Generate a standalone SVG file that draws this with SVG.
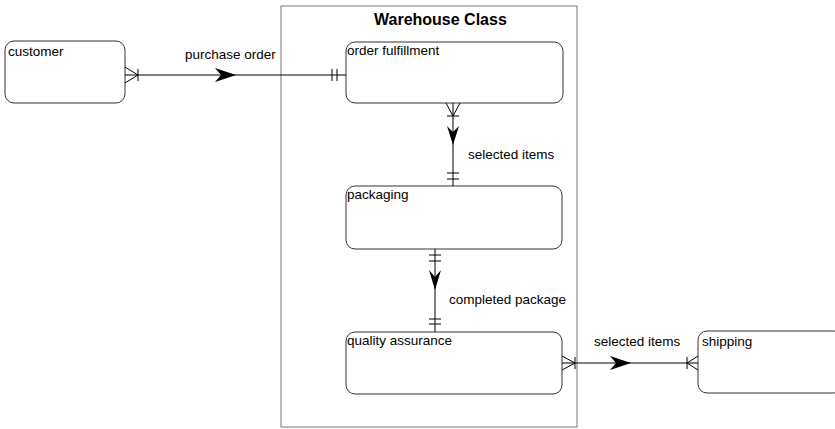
<svg xmlns="http://www.w3.org/2000/svg" width="835" height="429" viewBox="0 0 835 429">
<style>
.box{fill:#fff;stroke:#333;stroke-width:1}
.t{font-family:"Liberation Sans",Arial,sans-serif;font-size:13.5px;fill:#000}
.title{font-family:"Liberation Sans",Arial,sans-serif;font-size:16px;font-weight:bold;fill:#000}
.ln{stroke:#000;stroke-width:1;fill:none}
.ah{fill:#000;stroke:none}
</style>
<rect width="835" height="429" fill="#fff"/>
<g id="warehouse">
<rect x="281" y="6" width="296" height="421" fill="none" stroke="#777" stroke-width="1"/>
<text class="title" x="374" y="25">Warehouse Class</text>
</g>
<g id="customer">
<rect class="box" x="5" y="41" width="120" height="62" rx="9"/>
<text class="t" x="8" y="56">customer</text>
</g>
<g id="order-fulfillment">
<rect class="box" x="346" y="42" width="217" height="61" rx="9"/>
<text class="t" x="347" y="55">order fulfillment</text>
</g>
<g id="packaging">
<rect class="box" x="346" y="186" width="216" height="63" rx="9"/>
<text class="t" x="347" y="199">packaging</text>
</g>
<g id="quality-assurance">
<rect class="box" x="346" y="332" width="216" height="62" rx="9"/>
<text class="t" x="347" y="345">quality assurance</text>
</g>
<g id="shipping">
<rect class="box" x="698" y="331" width="145" height="62" rx="9"/>
<text class="t" x="702" y="346">shipping</text>
</g>
<g id="connectors">
<!-- customer to order fulfillment -->
<line class="ln" x1="125" y1="75" x2="346" y2="75"/>
<polyline class="ln" points="125,67 138,75 125,83"/>
<line class="ln" x1="138" y1="69" x2="138" y2="81"/>
<line class="ln" x1="332" y1="69" x2="332" y2="81"/>
<line class="ln" x1="337" y1="69" x2="337" y2="81"/>
<polygon class="ah" points="236,75 215,68 221,75 215,82"/>
<text class="t" x="185" y="59">purchase order</text>
<!-- order fulfillment to packaging -->
<line class="ln" x1="453" y1="103" x2="453" y2="186"/>
<polyline class="ln" points="446,103 453,116 460,103"/>
<line class="ln" x1="447" y1="116" x2="459" y2="116"/>
<line class="ln" x1="447" y1="173" x2="459" y2="173"/>
<line class="ln" x1="447" y1="179" x2="459" y2="179"/>
<polygon class="ah" points="453,145 447,126 453,132 459,126"/>
<text class="t" x="468" y="159">selected items</text>
<!-- packaging to QA -->
<line class="ln" x1="435" y1="249" x2="435" y2="332"/>
<line class="ln" x1="429" y1="255" x2="441" y2="255"/>
<line class="ln" x1="429" y1="261" x2="441" y2="261"/>
<line class="ln" x1="429" y1="319" x2="441" y2="319"/>
<line class="ln" x1="429" y1="324" x2="441" y2="324"/>
<polygon class="ah" points="435,290 429,270 435,277 441,270"/>
<text class="t" x="449" y="304">completed package</text>
<!-- QA to shipping -->
<line class="ln" x1="562" y1="363" x2="698" y2="363"/>
<polyline class="ln" points="562,356 575,363 562,370"/>
<line class="ln" x1="575" y1="357" x2="575" y2="369"/>
<line class="ln" x1="687" y1="357" x2="687" y2="369"/>
<polyline class="ln" points="698,356 687,363 698,370"/>
<polygon class="ah" points="631,363 610,356 616,363 610,370"/>
<text class="t" x="594" y="346">selected items</text>
</g>
</svg>
